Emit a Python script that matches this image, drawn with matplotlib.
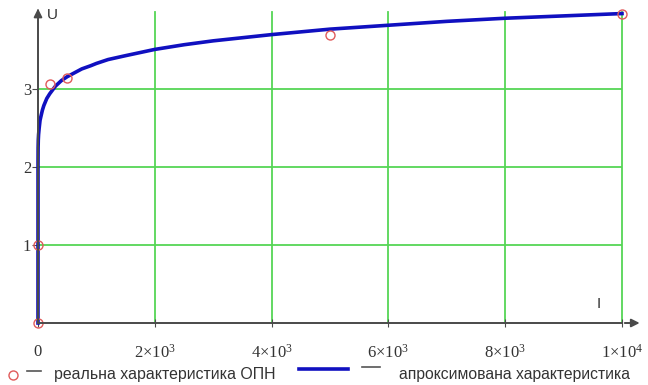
import matplotlib

matplotlib.use("Agg")
import matplotlib.pyplot as plt
from matplotlib.lines import Line2D

# measured points of the real arrester characteristic (I, U)
real_I = [0, 0, 200, 500, 5000, 10000]
real_U = [0.0, 1.0, 3.06, 3.14, 3.70, 3.96]

# approximated characteristic
appr_I = [0, 0.5, 2, 5, 10, 20, 35, 50, 75, 100, 150, 200, 300, 400, 500,
          600, 750, 900, 1000, 1200, 1500, 1750, 2000, 2500, 3000, 3500,
          4000, 4500, 5000, 6000, 7000, 8000, 9000, 10000]
appr_U = [0.0, 2.05, 2.25, 2.35, 2.42, 2.50, 2.60, 2.65, 2.73, 2.79, 2.88,
          2.94, 3.04, 3.11, 3.16, 3.20, 3.26, 3.30, 3.33, 3.38, 3.43, 3.47,
          3.51, 3.57, 3.62, 3.66, 3.70, 3.735, 3.77, 3.82, 3.87, 3.91, 3.94,
          3.97]

x_ticks = [0, 2000, 4000, 6000, 8000, 10000]
x_labels = ["0", r"$2{\times}10^{3}$", r"$4{\times}10^{3}$",
            r"$6{\times}10^{3}$", r"$8{\times}10^{3}$", r"$1{\times}10^{4}$"]
y_ticks = [1, 2, 3]

plt.rcParams["mathtext.fontset"] = "custom"
plt.rcParams["mathtext.rm"] = "Liberation Serif"
plt.rcParams["mathtext.it"] = "Liberation Serif:italic"

W, H = 648, 385
fig = plt.figure(figsize=(W / 100, H / 100), dpi=100)
x0, x1, y0, y1 = 38, 622, 323, 12
ax = fig.add_axes([x0 / W, 1 - y0 / H, (x1 - x0) / W, (y0 - y1) / H])
ax.set_xlim(0, 10000)
ax.set_ylim(0, 3.99)

grid_c = "#55d655"
axis_c = "#4a4a4a"
for xt in x_ticks[1:]:
    ax.axvline(xt, color=grid_c, lw=1.3, zorder=1, clip_on=False)
for yt in y_ticks:
    ax.axhline(yt, color=grid_c, lw=1.3, zorder=1)

ax.plot(appr_I, appr_U, color="#1010c0", lw=2.6, zorder=3, clip_on=False,
        solid_joinstyle="round")
ax.plot(real_I, real_U, "o", mfc="none", mec="#e05a5a", ms=6.5, mew=1.0,
        zorder=4, clip_on=False)

for s in ["top", "right"]:
    ax.spines[s].set_visible(False)
for s in ["left", "bottom"]:
    ax.spines[s].set_color(axis_c)
    ax.spines[s].set_linewidth(1.4)
    ax.spines[s].set_zorder(5)

# axis arrows extending past the plot area
ax.annotate("", xy=(1.035, 0), xycoords="axes fraction", xytext=(1.0, 0),
            arrowprops=dict(arrowstyle="-|>", color=axis_c, lw=1.4,
                            mutation_scale=12))
ax.annotate("", xy=(0, 1.02), xycoords="axes fraction", xytext=(0, 0.99),
            arrowprops=dict(arrowstyle="-|>", color=axis_c, lw=1.4,
                            mutation_scale=12))

ax.set_xticks(x_ticks)
ax.set_xticklabels(x_labels)
ax.set_yticks(y_ticks)
ax.tick_params(axis="x", direction="inout", length=6, color=axis_c,
               labelsize=12, pad=12)
ax.tick_params(axis="y", direction="out", length=4, color=axis_c,
               labelsize=12, pad=1)
for lab in ax.get_xticklabels() + ax.get_yticklabels():
    lab.set_family("Liberation Serif")
    lab.set_color("#333333")

ax.text(0.015, 0.99, "U", transform=ax.transAxes, fontsize=11,
        family="Liberation Sans", color="#333333", va="center")
ax.text(0.957, 0.06, "I", transform=ax.transAxes, fontsize=11,
        family="Liberation Sans", color="#333333", va="center")

# legend row at the bottom
ly = 1 - 371 / H
fig.add_artist(Line2D([13 / W], [1 - 375 / H], marker="o", mfc="none",
                      mec="#e05a5a", ms=6.5, mew=1.0, ls="none"))
fig.add_artist(Line2D([27 / W, 41 / W], [ly, ly], color="#555555", lw=1.2))
fig.text(54 / W, 1 - 375 / H, "реальна характеристика ОПН", fontsize=11.4,
         family="Liberation Sans", color="#333333", va="center")
fig.add_artist(Line2D([299 / W, 348 / W], [1 - 369 / H, 1 - 369 / H],
                      color="#1010c0", lw=2.6))
fig.add_artist(Line2D([362 / W, 380 / W], [1 - 367 / H, 1 - 367 / H],
                      color="#555555", lw=1.2))
fig.text(399 / W, 1 - 375 / H, "апроксимована характеристика", fontsize=11.3,
         family="Liberation Sans", color="#333333", va="center")

fig.savefig("out.png", dpi=100)
